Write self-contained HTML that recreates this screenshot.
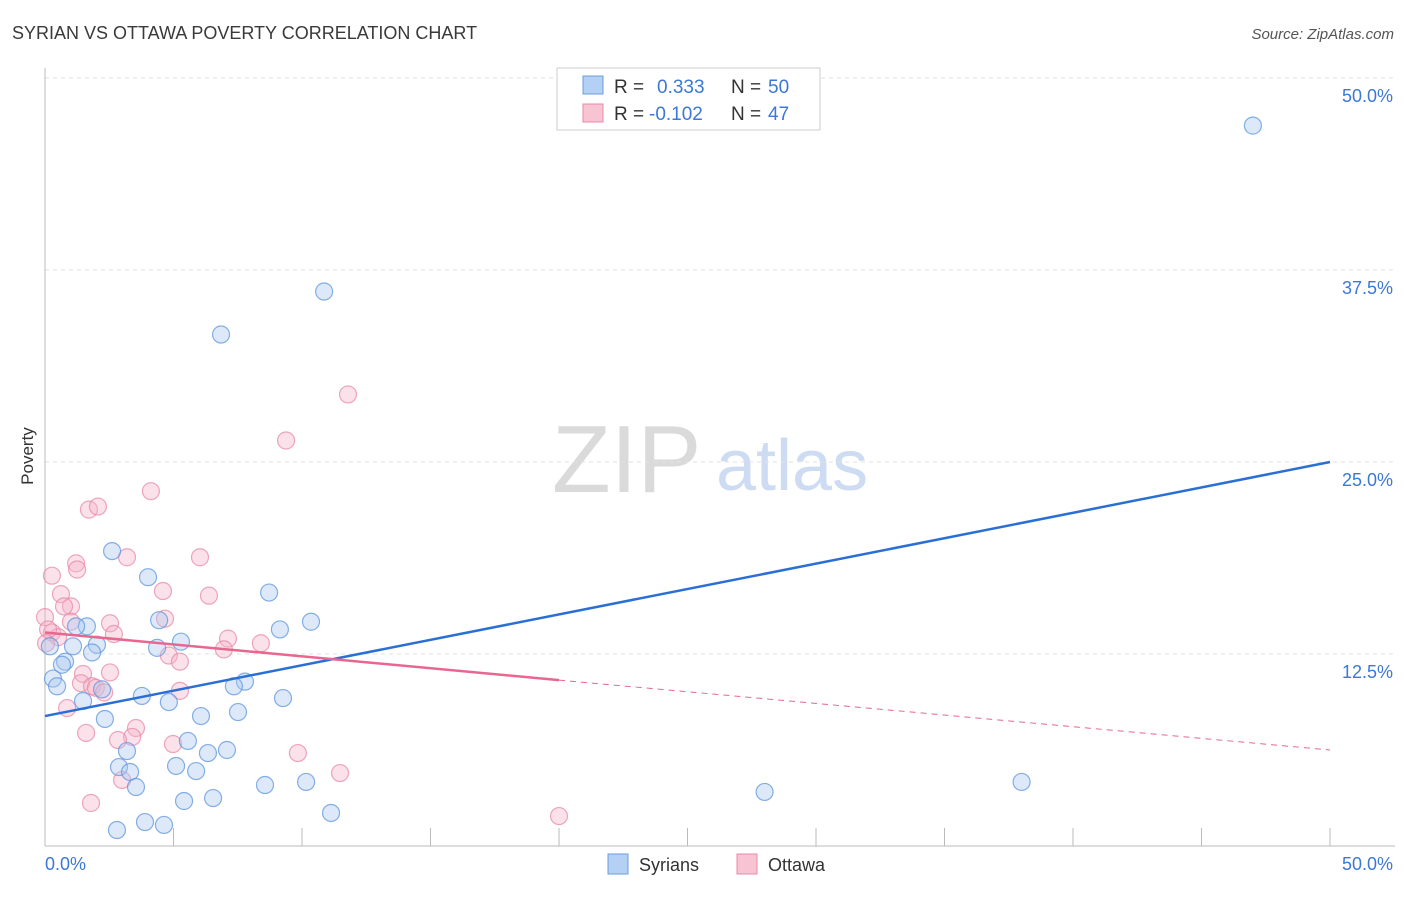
<!DOCTYPE html>
<html><head><meta charset="utf-8"><style>
body{margin:0;background:#fff;font-family:"Liberation Sans",sans-serif;}
svg text{font-family:"Liberation Sans",sans-serif;}
</style></head><body>
<svg id="chart" width="1406" height="892">
<text x="12" y="39" font-size="18" fill="#3a3a3a">SYRIAN VS OTTAWA POVERTY CORRELATION CHART</text>
<text x="1394" y="39" font-size="15" fill="#555" font-style="italic" text-anchor="end">Source: ZipAtlas.com</text>
<g>
<text x="552" y="492" font-size="96" fill="#dadada" font-family="Liberation Serif">ZIP</text>
<text x="716" y="490" font-size="72" fill="#cddcf2">atlas</text>
</g>
<g id="grid"></g>
<g id="axes"></g>
<g id="marks"></g>
<text x="33" y="456" font-size="17" fill="#333" text-anchor="middle" transform="rotate(-90 33 456)">Poverty</text>
<g>
<rect x="557" y="68" width="263" height="62" fill="#fff" stroke="#ccc"/>
<rect x="583" y="76" width="20" height="18" fill="#b4d0f4" stroke="#6a9de0"/>
<rect x="583" y="104" width="20" height="18" fill="#f8c4d4" stroke="#e88aa8"/>
<text font-size="19" fill="#333"><tspan x="614" y="93">R =</tspan><tspan x="657" y="93" fill="#3b78d8">0.333</tspan><tspan x="731" y="93">N =</tspan><tspan x="768" y="93" fill="#3b78d8">50</tspan></text>
<text font-size="19" fill="#333"><tspan x="614" y="120">R =</tspan><tspan x="649" y="120" fill="#3b78d8">-0.102</tspan><tspan x="731" y="120">N =</tspan><tspan x="768" y="120" fill="#3b78d8">47</tspan></text>
</g>
<g>
<rect x="608" y="854" width="20" height="20" fill="#b4d0f4" stroke="#6a9de0"/>
<text x="639" y="871" font-size="18" fill="#333">Syrians</text>
<rect x="737" y="854" width="20" height="20" fill="#f8c4d4" stroke="#e88aa8"/>
<text x="768" y="871" font-size="18" fill="#333">Ottawa</text>
</g>
</svg>
<script>
const yTicks=[12.5,25,37.5,50];
const yTickLabels=["12.5%","25.0%","37.5%","50.0%"];
const xTicks=[0,5,10,15,20,25,30,35,40,45,50];
const syriansX=[47.0,10.86,6.85,2.61,4.01,8.72,10.35,4.44,9.14,1.63,1.21,5.29,4.36,2.02,1.09,1.83,0.78,0.66,0.31,0.47,7.78,7.35,2.22,3.77,4.82,9.26,1.48,7.51,2.33,6.07,5.56,7.08,6.34,3.19,5.10,2.88,3.31,5.88,3.54,8.56,10.16,6.54,5.41,3.89,4.63,2.80,11.13,28.0,38.0,0.19];
const syriansY=[46.9,36.1,33.3,19.2,17.5,16.5,14.6,14.7,14.1,14.3,14.3,13.3,12.9,13.1,13.0,12.6,12.0,11.8,10.9,10.4,10.7,10.4,10.2,9.77,9.37,9.63,9.44,8.72,8.27,8.46,6.84,6.25,6.05,6.18,5.21,5.14,4.82,4.88,3.84,3.97,4.17,3.12,2.93,1.56,1.37,1.04,2.15,3.52,4.17,13.0];
const ottawaX=[11.79,9.38,4.12,1.71,2.06,3.19,6.03,0.27,1.21,1.25,4.59,0.62,6.38,1.01,0.74,4.67,2.53,0,1.01,2.68,0.27,0.51,0.12,7.12,6.96,8.40,4.82,5.25,1.48,2.53,1.40,1.83,1.98,2.30,5.25,0.86,3.54,1.60,3.39,2.84,4.98,9.84,3.00,11.48,1.79,20.0,0.04];
const ottawaY=[29.4,26.4,23.1,21.9,22.1,18.8,18.8,17.6,18.4,18.0,16.6,16.4,16.3,15.6,15.6,14.8,14.5,14.9,14.6,13.8,13.9,13.6,14.1,13.5,12.8,13.2,12.4,12.0,11.2,11.3,10.6,10.4,10.3,10.0,10.1,8.98,7.68,7.36,7.10,6.90,6.64,6.05,4.30,4.75,2.80,1.95,13.2];
const syriansTrend=[8.46,25.0];   // y at x=0, x=50
const ottawaTrend=[13.9,10.8,6.25]; // y at x=0, x=20 (solid end), x=50
const NS="http://www.w3.org/2000/svg";
const X=v=>45+v/50*1285, Y=v=>846-v*15.36;
function mk(t,a,p){const e=document.createElementNS(NS,t);for(const k in a)e.setAttribute(k,a[k]);p.appendChild(e);return e;}
const grid=document.getElementById('grid'),axes=document.getElementById('axes'),marks=document.getElementById('marks');
yTicks.forEach((v,i)=>{
 const l=mk('line',{x1:45,x2:1395,y1:Y(v),y2:Y(v),stroke:'#e2e2e2','stroke-dasharray':'4,4'},grid);
 
 
 const t=mk('text',{x:1393,y:Y(v)+24,'font-size':18,fill:'#3b78d8','text-anchor':'end'},axes);
 t.textContent=yTickLabels[i];
 
 
});
const ya=mk('line',{x1:45,x2:45,y1:68,y2:846,stroke:'#bbb'},axes);


const xa=mk('line',{x1:45,x2:1395,y1:846,y2:846,stroke:'#bbb'},axes);


xTicks.forEach(v=>{
 const t=mk('line',{x1:X(v),x2:X(v),y1:828,y2:846,stroke:'#bbb'},axes);
 
 
});
const x0=mk('text',{x:45,y:870,'font-size':18,fill:'#3b78d8'},axes);x0.textContent='0.0%';


const x1=mk('text',{x:1393,y:870,'font-size':18,fill:'#3b78d8','text-anchor':'end'},axes);x1.textContent='50.0%';


function pts(xs,ys,fill,stroke,name){xs.forEach((v,i)=>{
 const c=mk('circle',{cx:X(v),cy:Y(ys[i]),r:8.5,fill:fill,'fill-opacity':0.4,stroke:stroke,'stroke-opacity':0.75,'stroke-width':1.2},marks);
 
 
});}
pts(ottawaX,ottawaY,'#f5b3c8','#e88aa8','ottawa-point');
pts(syriansX,syriansY,'#a9c8f0','#5d95de','syrian-point');
const bl=mk('line',{x1:X(0),y1:Y(syriansTrend[0]),x2:X(50),y2:Y(syriansTrend[1]),stroke:'#2a6fd6','stroke-width':2.5},marks);


const pl=mk('line',{x1:X(0),y1:Y(ottawaTrend[0]),x2:X(20),y2:Y(ottawaTrend[1]),stroke:'#e8668f','stroke-width':2.5},marks);


const pd=mk('line',{x1:X(20),y1:Y(ottawaTrend[1]),x2:X(50),y2:Y(ottawaTrend[2]),stroke:'#e8668f','stroke-width':1,'stroke-dasharray':'6,5'},marks);


</script>
</body></html>
